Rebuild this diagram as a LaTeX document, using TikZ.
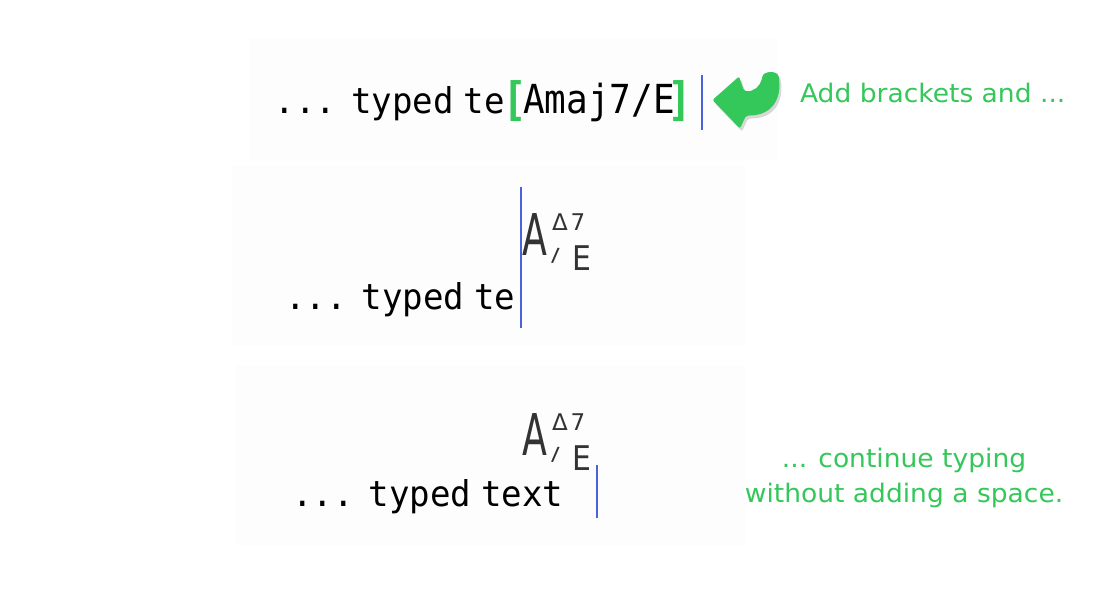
\documentclass[tikz,border=0pt]{standalone}
\usepackage{fontspec}
\usetikzlibrary{shadows}
\newfontfamily\monof[FakeStretch=0.96]{DejaVu Sans Mono}
\newfontfamily\chordmono[FakeStretch=0.9]{DejaVu Sans Mono}
\newfontfamily\chordAf[FakeStretch=0.63]{DejaVu Sans}
\newfontfamily\chordf{DejaVu Sans}
\newfontfamily\subf[FakeStretch=0.88]{DejaVu Sans}
\newfontfamily\notef[FakeStretch=1.04]{DejaVu Sans}
\definecolor{okgreen}{RGB}{52,199,89}
\definecolor{cursorblue}{RGB}{74,99,216}
\definecolor{chordgray}{RGB}{51,51,51}
\definecolor{panelgray}{RGB}{253,253,253}
\begin{document}
\begin{tikzpicture}[x=1pt,y=-1pt,
  every node/.style={inner sep=0pt, outer sep=0pt},
  typed/.style={anchor=base west, font=\monof\fontsize{35.5}{40}\selectfont},
  chordtext/.style={anchor=base west, font=\chordmono\fontsize{40}{44}\selectfont},
  bracket/.style={anchor=base, text=okgreen, font=\chordmono\bfseries\fontsize{46}{50}\selectfont},
  bigA/.style={anchor=base west, text=chordgray, font=\chordAf\fontsize{57.6}{60}\selectfont},
  supchord/.style={anchor=base west, text=chordgray, font=\chordf\fontsize{23}{26}\selectfont},
  slashmark/.style={text=chordgray, rotate=-6, font=\chordf\bfseries\fontsize{19}{21}\selectfont},
  subchord/.style={anchor=base west, text=chordgray, font=\subf\fontsize{34}{38}\selectfont},
  note/.style={text=okgreen, font=\notef\fontsize{25.5}{28}\selectfont},
  cursor/.style={draw=cursorblue, line width=1.8pt},
  panel/.style={fill=panelgray, draw=none}
]
\useasboundingbox (0,0) rectangle (1118,600);
\fill[white] (0,0) rectangle (1118,600);
% faint screenshot panels
\fill[panel] (250,38) rectangle (778,160);
\fill[panel] (232,165) rectangle (745,345);
\fill[panel] (235,365) rectangle (745,545);

% ---------- row 1 ----------
\node[typed] (r1text) at (274.5,113) {...\hspace{15pt}typed\hspace{10pt}te};
\node[bracket] (r1lbr) at (515,115.6) {[};
\node[chordtext] (r1chord) at (523.2,113) {Amaj7/E};
\node[bracket] (r1rbr) at (680,115.6) {]};
\draw[cursor] (701.7,75) -- (701.7,130);
% curved green arrow
\fill[okgreen, rounded corners=2pt,
      drop shadow={shadow xshift=2pt, shadow yshift=-3pt, opacity=0.3}]
  (712.5,100) -- (739,76.5) -- (744,91)
  .. controls (754,92) and (760,86) .. (762,78)
  .. controls (764,71) and (778,70) .. (779,79)
  .. controls (781,99) and (772,116) .. (746,115.5)
  -- (740,128.5) -- cycle;
\node[note, anchor=base west] (n1) at (800,102) {Add brackets and ...};

% ---------- row 2 ----------
\node[typed] (r2text) at (285.3,309) {...\hspace{15pt}typed\hspace{10pt}te};
\draw[cursor] (520.7,187) -- (520.7,328);
\node[bigA] (r2A) at (522.5,255) {A};
\node[supchord] (r2sup) at (552,230) {Δ\hspace{3pt}7};
\node[slashmark] (r2sl) at (555.5,256) {/};
\node[subchord] (r2E) at (572,270) {E};

% ---------- row 3 ----------
\node[typed] (r3text) at (292,506.7) {...\hspace{15pt}typed\hspace{10pt}text};
\node[bigA] (r3A) at (522.5,455) {A};
\node[supchord] (r3sup) at (552,430) {Δ\hspace{3pt}7};
\node[slashmark] (r3sl) at (555.5,455) {/};
\node[subchord] (r3E) at (572,470) {E};
\draw[cursor] (597,465) -- (597,518);
\node[note, anchor=base] (n2a) at (904,467) {... continue typing};
\node[note, anchor=base] (n2b) at (904,502) {without adding a space.};
\end{tikzpicture}
\end{document}
